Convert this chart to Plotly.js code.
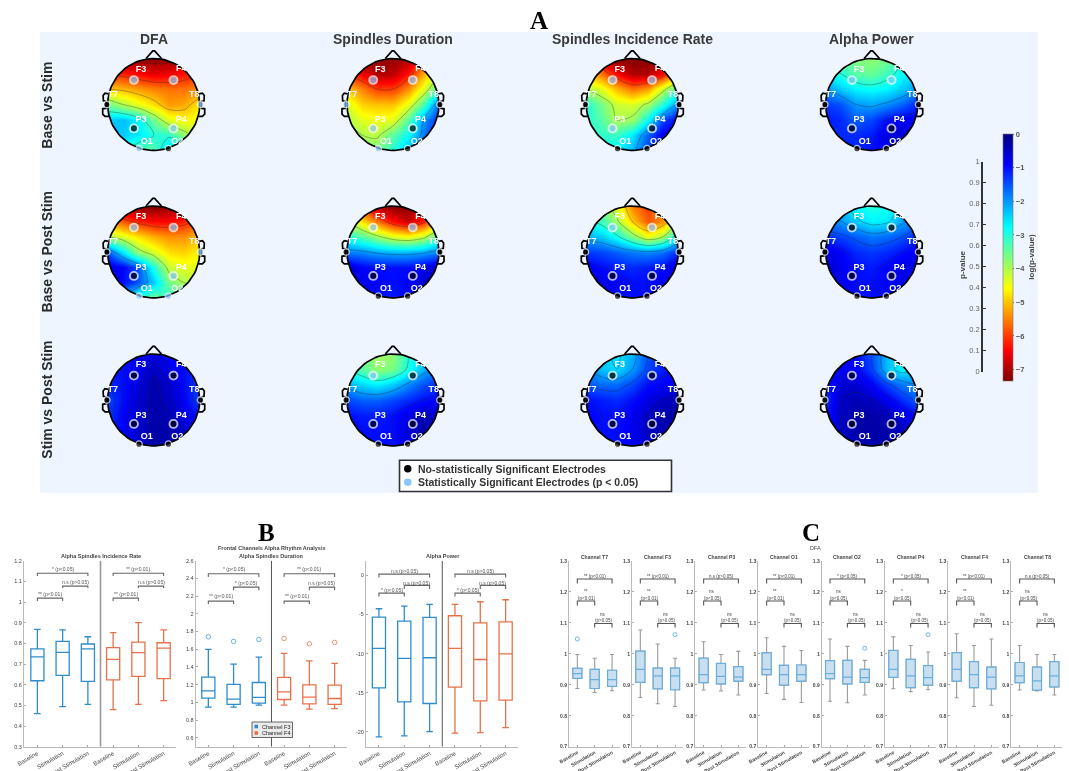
<!DOCTYPE html>
<html><head><meta charset="utf-8">
<script src="https://cdn.plot.ly/plotly-3.0.1.min.js"></script>
<style>html,body{margin:0;padding:0;background:#fff}#chart{width:1069px;height:771px;filter:blur(0.45px)}</style>
</head><body><div id="chart"></div>
<script>
// ---------- DATA: topographic maps, log(p-value), rows run from front (top) to back of the head ----------
const gridPos=[-1,-0.667,-0.333,0,0.333,0.667,1];
const dfaBaseStim=[[-7.2,-7.2,-7.2,-7.2,-7.2,-7,-7],[-6,-6.2,-6.4,-6.6,-6.5,-6.3,-6],[-5,-5.1,-5.3,-5.5,-5.6,-5.6,-5.4],[-3.5,-4,-4.4,-4.8,-5.3,-5.2,-4.7],[-2.4,-2.3,-2.7,-3.6,-4.4,-4.6,-4.5],[-2.2,-2.4,-2.6,-3,-3.1,-3.8,-4.2],[-2.8,-3,-3.4,-3.4,-2.4,-2.6,-3]];
const durBaseStim=[[-7,-7.2,-7.2,-7.2,-7,-6,-5],[-6,-6.5,-7,-6.9,-6.3,-5.2,-4],[-5,-5.5,-6,-6,-5.4,-4.4,-3.2],[-4.3,-4.9,-5,-5,-4.4,-3.3,-1.5],[-4,-4.4,-4.5,-4.4,-3.4,-2,-1.2],[-3.8,-4,-4.1,-3.4,-2.8,-1.8,-1],[-3.6,-3.6,-3.6,-3,-2.2,-1.4,-1]];
const rateBaseStim=[[-6,-6.8,-7.3,-7.3,-7.3,-7,-6],[-5,-5.6,-6.4,-7,-7,-6.4,-5],[-4,-4.4,-5.1,-5.6,-5.3,-4.2,-3.2],[-3,-3.6,-4.2,-4.3,-3.9,-3,-1.8],[-3,-3.4,-4,-3.9,-2.8,-1.4,-0.9],[-3,-3.1,-3.2,-2.6,-1.6,-0.8,-0.8],[-2.8,-2.8,-2.6,-2.2,-1.4,-0.9,-0.9]];
const powBaseStim=[[-3.2,-3.4,-3.7,-3.8,-3.6,-3,-2.6],[-2.7,-3,-3.4,-3.5,-3.2,-2.8,-2.4],[-2,-2.4,-2.7,-2.8,-2.7,-2.4,-2],[-1.3,-1.5,-2,-2.1,-1.9,-1.6,-1.1],[-1.1,-1.2,-1.6,-1.4,-1,-0.8,-0.9],[-1.2,-1.2,-1.2,-1.1,-0.7,-0.6,-0.8],[-1.2,-1.2,-1.2,-1,-0.8,-0.8,-0.9]];
const dfaBasePost=[[-7,-7.2,-7.3,-7.3,-7.2,-7,-6.8],[-5.4,-5.8,-6.2,-6.4,-6.4,-6.2,-5.8],[-4,-4.4,-4.8,-5.2,-5.4,-5.4,-5],[-1.5,-2.6,-3.8,-4.3,-4.8,-4.9,-4.6],[-0.7,-0.9,-1.5,-3,-4.2,-4.4,-4.4],[-0.8,-1,-1.5,-2.4,-3.6,-4,-4.2],[-2,-2.2,-3.2,-3.6,-3,-3,-3.2]];
const durBasePost=[[-5.5,-6,-7,-7.3,-7.3,-6.5,-5.5],[-4,-4.8,-5.6,-6.4,-6.8,-6.2,-5],[-3,-3.4,-3.9,-4.4,-4.6,-4.2,-3.2],[-1.8,-1.9,-2.1,-2.2,-2.2,-2.1,-1.8],[-0.6,-0.9,-1,-1,-1,-0.8,-0.5],[-0.7,-0.8,-0.9,-1,-0.9,-0.6,-0.4],[-0.9,-0.9,-1,-1.1,-0.9,-0.7,-0.6]];
const rateBasePost=[[-3.2,-3.6,-4.4,-5.5,-6,-5.2,-4],[-2.8,-3.2,-3.9,-5,-5.8,-5.4,-4],[-2.2,-2.4,-2.9,-3.7,-4.5,-4,-2.6],[-1.3,-1.4,-1.6,-1.8,-1.9,-1.7,-1.2],[-0.8,-1,-1.1,-1.2,-1.1,-1,-0.6],[-0.5,-0.7,-0.9,-1,-1,-0.8,-0.5],[-0.6,-0.8,-1,-1,-1,-0.8,-0.6]];
const powBasePost=[[-2.2,-2.4,-2.8,-3,-2.9,-2.4,-2],[-1.8,-2,-2.4,-2.7,-2.6,-2.1,-1.7],[-1.3,-1.4,-1.6,-1.8,-1.7,-1.5,-1.2],[-0.7,-0.9,-1.2,-1.3,-1.2,-1,-0.8],[-0.6,-0.8,-1,-1.1,-0.9,-0.7,-0.8],[-0.7,-0.8,-1,-1,-0.9,-0.8,-0.9],[-0.8,-0.9,-1,-1,-1,-0.9,-1]];
const dfaStimPost=[[-1,-1,-0.8,-0.7,-0.9,-1.1,-1.2],[-1.1,-1,-0.8,-0.5,-0.8,-1,-1.3],[-1.2,-1,-0.7,-0.3,-0.6,-1,-1.4],[-1.4,-1,-0.6,-0.3,-0.5,-0.9,-1.4],[-1.3,-0.9,-0.6,-0.3,-0.4,-0.8,-1.1],[-1.1,-0.9,-0.6,-0.3,-0.3,-0.6,-0.9],[-1,-0.9,-0.6,-0.3,-0.3,-0.6,-0.9]];
const durStimPost=[[-3,-3.6,-3.9,-3.8,-3,-2.4,-2],[-3,-3.4,-3.8,-3.6,-2.9,-2.2,-1.8],[-2.2,-2.5,-2.7,-2.4,-1.9,-1.5,-1.2],[-1.4,-1.6,-1.6,-1.4,-1.2,-1,-0.9],[-1,-1.1,-1.1,-1,-0.7,-0.4,-0.6],[-0.9,-1,-1,-1,-0.6,-0.3,-0.5],[-0.9,-1,-1,-1,-0.8,-0.5,-0.6]];
const rateStimPost=[[-2,-2.4,-2.6,-2.2,-1.5,-1.2,-1],[-1.9,-2.3,-2.5,-2,-1.4,-1.1,-1],[-1.5,-1.7,-1.7,-1.4,-1,-0.9,-0.8],[-1,-1.1,-1.2,-1,-0.7,-0.5,-0.4],[-0.9,-1,-1,-0.8,-0.5,-0.3,-0.3],[-0.9,-1,-1,-0.8,-0.5,-0.4,-0.4],[-0.9,-1,-1,-0.8,-0.6,-0.5,-0.5]];
const powStimPost=[[-1,-0.9,-1,-1.5,-2.3,-2.6,-2.4],[-1,-0.8,-0.9,-1.4,-2.3,-2.7,-2.4],[-1.1,-0.6,-0.6,-0.9,-1.4,-1.8,-2],[-1.3,-0.5,-0.4,-0.5,-0.8,-1.2,-1.6],[-1,-0.5,-0.3,-0.3,-0.4,-0.7,-1],[-0.8,-0.5,-0.3,-0.3,-0.3,-0.5,-0.7],[-0.8,-0.6,-0.4,-0.3,-0.3,-0.5,-0.7]];
const electrodeNames=['F3','F4','T7','T8','P3','P4','O1','O2'];
const sigElectrodes=[['F3','F4','T8','P4','O1'],['F3','F4','T7','P3','O1'],['F3','F4','P3'],['F3','F4'],
 ['F3','F4','T8','P4','O1','O2'],['F3','F4'],['F3','F4'],[],
 [],['F3'],[],[]];
const columnTitles=['DFA','Spindles Duration','Spindles Incidence Rate','Alpha Power'];
const rowTitles=['Base vs Stim','Base vs Post Stim','Stim vs Post Stim'];
const logTicks=[0,-1,-2,-3,-4,-5,-6,-7];
const pTicks=[0,0.1,0.2,0.3,0.4,0.5,0.6,0.7,0.8,0.9,1];

// ---------- DATA: panel B (Baseline, Stimulation, Post Stimulation for F3 then F4) ----------
const stageLabels=['Baseline','Stimulation','Post Stimulation'];
const rateTop=[0.868,0.865,0.832,0.852,0.90,0.865];
const rateQ3=[0.773,0.81,0.797,0.779,0.806,0.803];
const rateMed=[0.735,0.756,0.773,0.723,0.755,0.777];
const rateQ1=[0.619,0.645,0.616,0.623,0.64,0.629];
const rateLow=[0.46,0.494,0.505,0.479,0.505,0.523];
const rateTicks=[0.3,0.4,0.5,0.6,0.7,0.8,0.9,1,1.1,1.2];
const rateSig=['* (p<0.05)','n.s (p>0.05)','** (p<0.01)','** (p<0.01)','n.s (p>0.05)','** (p<0.01)'];
const rateBracket=[1.139,1.126,1.077,1.068,1.019,1.005];
const rateSigY=[1.16,1.098,1.04];

const durTop=[1.598,1.432,1.511,1.553,1.47,1.44];
const durQ3=[1.286,1.203,1.225,1.282,1.199,1.195];
const durMed=[1.131,1.037,1.056,1.12,1.06,1.044];
const durQ1=[1.048,0.977,0.992,1.033,0.984,0.977];
const durLow=[0.947,0.947,0.969,0.969,0.924,0.931];
const durOut=[1.741,1.689,1.711,1.722,1.662,1.677];
const durTicks=[0.6,0.8,1,1.2,1.4,1.6,1.8,2,2.2,2.4,2.6];
const durSig=['* (p<0.05)','* (p<0.05)','** (p<0.01)','** (p<0.01)','n.s (p>0.05)','** (p<0.01)'];
const durBracket=[2.453,2.415,2.302,2.265,2.144,2.11];
const durSigY=[2.502,2.351,2.2];

const powTop=[-4.26,-3.92,-3.71,-3.71,-3.37,-3.11];
const powQ3=[-5.33,-5.84,-5.37,-5.16,-6.06,-5.93];
const powMed=[-9.34,-10.62,-10.53,-9.34,-10.75,-10.02];
const powQ1=[-14.37,-16.16,-16.38,-14.29,-16.03,-15.95];
const powLow=[-20.64,-20.51,-19.96,-20.17,-20.09,-19.45];
const powTicks=[-20,-15,-10,-5,0];
const powSig=['n.s (p>0.05)','n.s (p>0.05)','* (p<0.05)','n.s (p>0.05)','n.s (p>0.05)','* (p<0.05)'];
const powBracket=[0.17,-0.26,-1.28,-1.75,-2.26,-2.69];
const powSigY=[0.51,-0.98,-1.88];

// ---------- DATA: panel C (DFA by channel) ----------
const channelNames=['T7','F3','P3','O1','O2','P4','F4','T8'];
const dfaTop=[[0.998,0.986,0.998],[1.077,1.032,0.986],[1.039,0.998,1.008],[1.052,1.024,1.011],[1.048,1.024,0.979],[1.055,1.027,1.006],[1.065,1.027,1.048],[1.027,0.998,0.998]];
const dfaQ3=[[0.953,0.95,0.947],[1.009,0.954,0.954],[0.986,0.969,0.959],[1.003,0.963,0.964],[0.978,0.979,0.95],[1.011,0.982,0.962],[1.004,0.975,0.957],[0.972,0.957,0.975]];
const dfaMed=[[0.936,0.917,0.917],[0.95,0.929,0.929],[0.933,0.927,0.925],[0.95,0.933,0.933],[0.936,0.925,0.923],[0.95,0.929,0.923],[0.95,0.933,0.925],[0.929,0.913,0.929]];
const dfaQ1=[[0.921,0.888,0.895],[0.908,0.887,0.884],[0.907,0.903,0.912],[0.933,0.899,0.912],[0.92,0.903,0.908],[0.924,0.891,0.899],[0.912,0.891,0.887],[0.907,0.883,0.893]];
const dfaLow=[[0.888,0.875,0.881],[0.859,0.839,0.83],[0.883,0.88,0.867],[0.872,0.853,0.843],[0.847,0.842,0.867],[0.887,0.878,0.884],[0.858,0.83,0.834],[0.883,0.88,0.867]];
const dfaOutChannel=[0,1,4,5];
const dfaOutStage=[1,3,3,3];
const dfaOutValue=[1.048,1.062,1.018,1.062];
const dfaTicks=[0.7,0.8,0.9,1,1.1,1.2,1.3];
const dfaSigAll=['** (p<0.01)','** (p<0.01)','n.s (p>0.05)','** (p<0.01)','* (p<0.05)','* (p<0.05)','** (p<0.01)','n.s (p>0.05)'];
const dfaSigFirst=['**','**','ns','**','ns','*','**','ns'];
const dfaSigFirstP=['(p<0.01)','(p<0.01)','(p<0.05)','(p<0.01)','(p<0.05)','(p<0.05)','(p<0.01)','(p<0.05)'];
const dfaBracket=[1.242,1.227,1.171,1.156,1.098,1.085];

// ---------- DRAWING ----------
const W=1069,H=771;
const X=p=>p/W, Y=p=>1-p/H;
const BG='#eef5ff', FONT='"Liberation Sans",Arial,sans-serif';
const layout={width:W,height:H,margin:{l:0,r:0,t:0,b:0},paper_bgcolor:'#fff',plot_bgcolor:'rgba(0,0,0,0)',showlegend:false,boxmode:'overlay',font:{family:FONT},annotations:[],shapes:[],hovermode:false};
const traces=[];
let axisCount=0;
function newAxes(l,r,t,b,xr,yr,xo,yo){
  axisCount++;
  const n=axisCount===1?'':axisCount;
  layout['xaxis'+n]=Object.assign({domain:[X(l),X(r)],range:xr,anchor:'y'+n,showgrid:false,zeroline:false,fixedrange:true},xo);
  layout['yaxis'+n]=Object.assign({domain:[Y(b),Y(t)],range:yr,anchor:'x'+n,showgrid:false,zeroline:false,fixedrange:true},yo);
  return {x:'x'+n,y:'y'+n};
}
function note(text,px,py,size,color,extra){
  layout.annotations.push(Object.assign({text,xref:'paper',yref:'paper',x:X(px),y:Y(py),showarrow:false,xanchor:'center',yanchor:'middle',font:{size,color,family:FONT}},extra||{}));
}
// light panel behind A
layout.shapes.push({type:'rect',xref:'paper',yref:'paper',x0:X(40),x1:X(1038),y0:Y(493),y1:Y(32),fillcolor:BG,line:{width:0},layer:'below'});

const jet=[[0,'#7f0000'],[0.125,'#ff0000'],[0.375,'#ffff00'],[0.5,'#7fff7f'],[0.625,'#00ffff'],[0.875,'#0000ff'],[1,'#00007f']];
const Z_MIN=-7.34;
const maps=[dfaBaseStim,durBaseStim,rateBaseStim,powBaseStim,dfaBasePost,durBasePost,rateBasePost,powBasePost,dfaStimPost,durStimPost,rateStimPost,powStimPost];
const centreX=[153.7,393,632.3,871.7], centreY=[104.5,252,400];
const R=46, SPAN=1.25;
const elecX=[-0.43,0.43,-1.02,1.02,-0.43,0.43,-0.32,0.32];
const elecY=[0.53,0.53,0,0,-0.52,-0.52,-0.96,-0.96];
const labX=[-0.275,0.6,-0.89,0.884,-0.275,0.6,-0.152,0.514];
const labY=[0.76,0.77,0.22,0.22,-0.333,-0.333,-0.804,-0.804];
const rim=[false,false,true,true,false,false,true,true];
const circ=[];for(let i=0;i<=90;i++){circ.push(i*Math.PI/45);}
maps.forEach((m,idx)=>{
  const cx=centreX[idx%4], cy=centreY[Math.floor(idx/4)];
  const a=newAxes(cx-R*SPAN,cx+R*SPAN,cy-R*SPAN,cy+R*SPAN,[-SPAN,SPAN],[-SPAN,SPAN],{visible:false},{visible:false});
  const yAsc=gridPos.slice();
  const z=m.slice().reverse();
  const hm={type:'heatmap',x:gridPos,y:yAsc,z:z,zmin:Z_MIN,zmax:0,colorscale:jet,zsmooth:'best',xaxis:a.x,yaxis:a.y,hoverinfo:'skip',showscale:false};
  if(idx===0){
    hm.showscale=true;
    hm.colorbar={thicknessmode:'pixels',thickness:9.7,lenmode:'pixels',len:247,x:X(1003),xanchor:'left',y:Y(381),yanchor:'bottom',xpad:0,ypad:0,tickmode:'array',tickvals:logTicks,ticks:'outside',ticklen:1.5,tickcolor:'#666',tickfont:{size:7.5,color:'#555',weight:'bold'},outlinecolor:'#777',outlinewidth:0.6,borderwidth:0};
  }
  traces.push(hm);
  traces.push({type:'contour',x:gridPos,y:yAsc,z:z,autocontour:true,ncontours:6,contours:{coloring:'none'},line:{color:'rgba(30,30,30,0.55)',width:0.6,smoothing:1},showscale:false,xaxis:a.x,yaxis:a.y,hoverinfo:'skip'});
  // mask outside the head: outer square one way, head circle the other way round
  const s=SPAN-0.005;
  const mx=[-s,s,s,-s,-s].concat(circ.map(t=>-Math.cos(t))).concat([-s]);
  const my=[s,s,-s,-s,0].concat(circ.map(t=>-Math.sin(t))).concat([0]);
  traces.push({type:'scatter',mode:'lines',x:mx,y:my,fill:'toself',fillcolor:BG,line:{width:0,color:BG},xaxis:a.x,yaxis:a.y,hoverinfo:'skip'});
  // head, nose, ears
  const hx=[],hy=[];
  circ.forEach(t=>{hx.push(Math.cos(t));hy.push(Math.sin(t));});
  hx.push(null);hy.push(null);
  [-0.167,-0.02,0.02,0.17].forEach(v=>hx.push(v));[1,1.167,1.167,1].forEach(v=>hy.push(v));
  const earX=[0.985,1.06,1.10,1.094,1.036,1.036,1.109,1.109,1.058,0.97], earY=[0.23,0.246,0.196,0.08,0.065,-0.08,-0.094,-0.21,-0.26,-0.26];
  hx.push(null);hy.push(null);earX.forEach((v,i)=>{hx.push(-v);hy.push(earY[i]);});
  hx.push(null);hy.push(null);earX.forEach((v,i)=>{hx.push(v);hy.push(earY[i]);});
  traces.push({type:'scatter',mode:'lines',x:hx,y:hy,line:{color:'#000',width:1.7},xaxis:a.x,yaxis:a.y,hoverinfo:'skip'});
  // electrodes
  const sig=sigElectrodes[idx];
  traces.push({type:'scatter',mode:'markers',x:elecX,y:elecY,xaxis:a.x,yaxis:a.y,hoverinfo:'skip',
    marker:{size:rim.map(r=>r?6.5:8),color:electrodeNames.map(n=>sig.includes(n)?'#87c6ff':'#000'),line:{color:'#fff',width:rim.map(r=>r?1.3:1.9)}}});
  traces.push({type:'scatter',mode:'text',x:labX,y:labY,text:electrodeNames,textposition:'middle center',textfont:{color:'#fff',size:9,family:FONT,weight:'bold'},xaxis:a.x,yaxis:a.y,hoverinfo:'skip'});
});
columnTitles.forEach((t,i)=>note(t,[153.7,393,632.3,871.7][i],38.5,14,'#3a3a3a',{font:{size:14,color:'#3a3a3a',family:FONT,weight:'bold'}}));
rowTitles.forEach((t,i)=>note(t,46.7,[105,251.7,400][i],14,'#222',{textangle:-90,font:{size:14,color:'#2a2a2a',family:FONT,weight:'bold'}}));
// panel letters
[['A',539,20],['B',266,532],['C',811,532]].forEach(l=>note(l[0],l[1],l[2],25,'#000',{font:{size:25,color:'#000',family:'"Liberation Serif",serif',weight:'bold'}}));
// p-value axis
const pa=newAxes(982.7,983.7,161.7,371.7,[0,1],[0,1],{visible:false},{tickmode:'array',tickvals:pTicks,ticktext:pTicks.map(String),ticks:'inside',ticklen:3,tickcolor:'#333',showline:true,linecolor:'#333',linewidth:1.6,side:'left',tickfont:{size:7.5,color:'#666'}});
traces.push({type:'scatter',mode:'markers',x:[0],y:[0],marker:{opacity:0},xaxis:pa.x,yaxis:pa.y,hoverinfo:'skip'});
note('p-value',962,265,8,'#444',{textangle:-90,font:{size:8,color:'#444',family:FONT,weight:'bold'}});
note('log(p-value)',1031.7,257,8,'#444',{textangle:-90,font:{size:8,color:'#444',family:FONT,weight:'bold'}});
// legend of A
layout.shapes.push({type:'rect',xref:'paper',yref:'paper',x0:X(399.5),x1:X(671.5),y0:Y(491.5),y1:Y(460.2),fillcolor:'#fff',line:{color:'#333',width:1.6},layer:'above'});
[['#000',468.7],['#87c6ff',482.3]].forEach(d=>layout.shapes.push({type:'circle',xref:'paper',yref:'paper',x0:X(404),x1:X(411.5),y0:Y(d[1]+3.75),y1:Y(d[1]-3.75),fillcolor:d[0],line:{width:0},layer:'above'}));
note('No-statistically Significant Electrodes',415.7,468.7,10.5,'#333',{xanchor:'left',font:{size:10.5,color:'#333',family:FONT,weight:'bold'}});
note('Statistically Significant Electrodes (p < 0.05)',415.7,482.3,10.5,'#333',{xanchor:'left',font:{size:10.5,color:'#333',family:FONT,weight:'bold'}});

// ---- boxes ----
function box(a,cat,low,q1,med,q3,top,line,fill,w,ww,lw){
  traces.push({type:'box',x:[cat],lowerfence:[low],q1:[q1],median:[med],q3:[q3],upperfence:[top],width:w,whiskerwidth:ww,line:{color:line,width:lw},fillcolor:fill,boxpoints:false,xaxis:a.x,yaxis:a.y,hoverinfo:'skip'});
}
function bracket(a,x0,x1,yTop,yEnd,color){
  traces.push({type:'scatter',mode:'lines',x:[x0,x0,x1,x1],y:[yEnd,yTop,yTop,yEnd],line:{color:color||'#666',width:1.1},xaxis:a.x,yaxis:a.y,hoverinfo:'skip'});
}
function label(a,text,x,y,size,color){
  layout.annotations.push({text,xref:a.x,yref:a.y,x,y,showarrow:false,xanchor:'center',yanchor:'middle',font:{size,color:color||'#555',family:FONT}});
}
const BLUE='#2f8ccc', ORANGE='#e8714a';
const cats=[1,2,3,4,5,6];
const xTickOpts=(vals,text,size,weight)=>({tickmode:'array',tickvals:vals,ticktext:text,tickangle:-30,ticks:'inside',ticklen:2,tickcolor:'#aaa',showline:true,linecolor:'#bbb',linewidth:1,tickfont:{size,color:'#444',weight:weight||'normal'}});
const yTickOpts=(vals,size,weight)=>({tickmode:'array',tickvals:vals,ticktext:vals.map(String),ticks:'inside',ticklen:2,tickcolor:'#aaa',showline:true,linecolor:'#bbb',linewidth:1,tickfont:{size,color:'#444',weight:weight||'normal'}});
const bConf=[
 {l:24,r:176,xr:[0.47,6.49],yr:[0.3,1.2],t:rateTicks,top:rateTop,q3:rateQ3,med:rateMed,q1:rateQ1,low:rateLow,sig:rateSig,br:rateBracket,sy:rateSigY,sep:'#999',sw:1.6,title:'Alpha Spindles Incidence Rate',tx:100.5},
 {l:195.7,r:347,xr:[0.5,6.49],yr:[0.5,2.6],t:durTicks,top:durTop,q3:durQ3,med:durMed,q1:durQ1,low:durLow,out:durOut,sig:durSig,br:durBracket,sy:durSigY,sep:'#555',sw:1,title:'Alpha Spindles Duration',tx:271.5},
 {l:366,r:518.3,xr:[0.49,6.5],yr:[-21.9,1.88],t:powTicks,top:powTop,q3:powQ3,med:powMed,q1:powQ1,low:powLow,sig:powSig,br:powBracket,sy:powSigY,sep:'#555',sw:1,title:'Alpha Power',tx:442.5}
];
const tick6=stageLabels.concat(stageLabels);
bConf.forEach(c=>{
  const a=newAxes(c.l,c.r,560.7,746.7,c.xr,c.yr,xTickOpts(cats,tick6,6),yTickOpts(c.t,5.5));
  cats.forEach((k,i)=>{
    const col=i<3?BLUE:ORANGE;
    box(a,k,c.low[i],c.q1[i],c.med[i],c.q3[i],c.top[i],col,'rgba(0,0,0,0)',0.52,0.5,1.3);
  });
  if(c.out) traces.push({type:'scatter',mode:'markers',x:cats,y:c.out,xaxis:a.x,yaxis:a.y,hoverinfo:'skip',marker:{symbol:'circle-open',size:4.5,color:cats.map(k=>k<4?'#5aa6dc':'#ec8a68'),line:{width:0.9}}});
  traces.push({type:'scatter',mode:'lines',x:[3.5,3.5],y:c.yr,line:{color:c.sep,width:c.sw},xaxis:a.x,yaxis:a.y,hoverinfo:'skip'});
  [0,3].forEach(off=>{
    const b=c.br;
    bracket(a,1+off,3+off,b[0],b[1]); bracket(a,2+off,3+off,b[2],b[3]); bracket(a,1+off,2+off,b[4],b[5]);
    label(a,c.sig[off],2+off,c.sy[0],5); label(a,c.sig[off+1],2.5+off,c.sy[1],5); label(a,c.sig[off+2],1.5+off,c.sy[2],5);
  });
  note(c.title,c.tx,556.3,5.5,'#444',{font:{size:5.5,color:'#444',family:FONT,weight:'bold'}});
});
note('Frontal Channels Alpha Rhythm Analysis',271,547.7,5.5,'#444',{font:{size:5.5,color:'#444',family:FONT,weight:'bold'}});
// legend of panel B
layout.shapes.push({type:'rect',xref:'paper',yref:'paper',x0:X(252),x1:X(292.5),y0:Y(737.5),y1:Y(722),fillcolor:'#eaeaea',line:{color:'#444',width:0.8},layer:'above'});
[[BLUE,726.5],[ORANGE,733]].forEach(d=>layout.shapes.push({type:'rect',xref:'paper',yref:'paper',x0:X(254.5),x1:X(258),y0:Y(d[1]+1.8),y1:Y(d[1]-1.8),fillcolor:d[0],line:{width:0},layer:'above'}));
note('Channel F3',259.5,726.5,5.5,'#222',{xanchor:'left'});
note('Channel F4',259.5,733,5.5,'#222',{xanchor:'left'});

// ---- panel C ----
const cLeft=[569,632,695.3,758.3,821.7,885,948.3,1011.3];
const CFILL='#c9deef', CEDGE='#6aaedd', CGREY='#9a9a9a';
channelNames.forEach((ch,i)=>{
  const a=newAxes(cLeft[i],cLeft[i]+50.7,561,746.7,[0.52,3.44],[0.7,1.3],xTickOpts([1,2,3],stageLabels,5,'bold'),yTickOpts(dfaTicks,5,'bold'));
  [0,1,2].forEach(s=>{
    box(a,s+1,dfaLow[i][s],dfaQ1[i][s],dfaMed[i][s],dfaQ3[i][s],dfaTop[i][s],CGREY,'rgba(0,0,0,0)',0.52,0.45,1.1);
    box(a,s+1,dfaQ1[i][s],dfaQ1[i][s],dfaMed[i][s],dfaQ3[i][s],dfaQ3[i][s],CEDGE,CFILL,0.52,0,1.2);
  });
  const oi=dfaOutChannel.indexOf(i);
  if(oi>=0) traces.push({type:'scatter',mode:'markers',x:[dfaOutStage[oi]],y:[dfaOutValue[oi]],xaxis:a.x,yaxis:a.y,hoverinfo:'skip',marker:{symbol:'circle-open',size:4,color:'#6aaedd',line:{width:0.9}}});
  const b=dfaBracket;
  bracket(a,1,3,b[0],b[1],'#555'); bracket(a,1,2,b[2],b[3],'#555'); bracket(a,2,3,b[4],b[5],'#555');
  label(a,dfaSigAll[i],2,1.249,4.5,'#444');
  label(a,dfaSigFirst[i],1.5,1.2,4.5,'#444');
  label(a,dfaSigFirstP[i],1.5,1.179,4.5,'#444');
  label(a,'ns',2.5,1.128,4.5,'#444');
  label(a,'(p>0.05)',2.5,1.108,4.5,'#444');
  note('Channel '+ch,cLeft[i]+25.7,557.3,5,'#444',{font:{size:5,color:'#444',family:FONT,weight:'bold'}});
});
note('DFA',815.7,547.7,5.5,'#444');

Plotly.newPlot('chart',traces,layout,{staticPlot:true,displayModeBar:false});
</script></body></html>
